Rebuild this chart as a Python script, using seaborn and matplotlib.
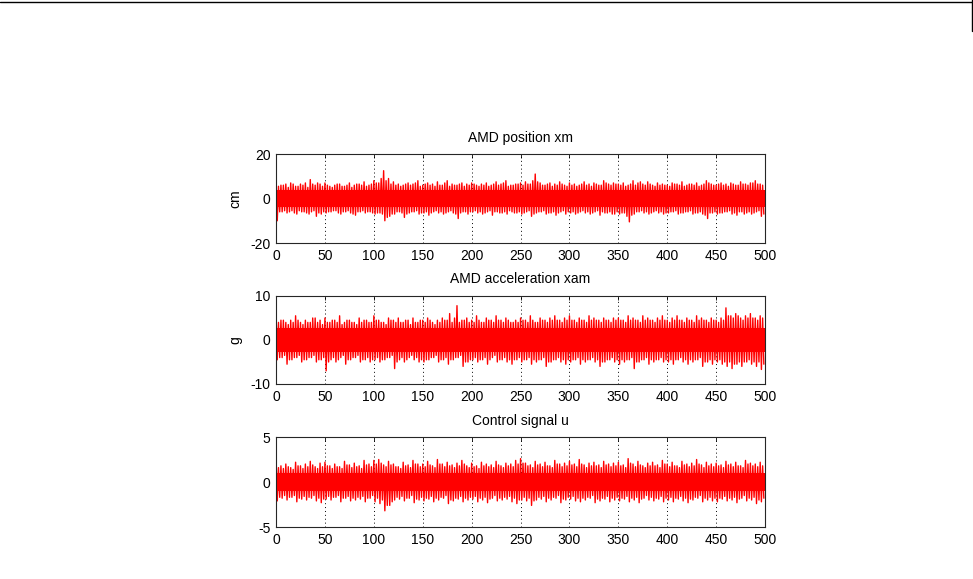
import numpy as np
import matplotlib
matplotlib.use("Agg")
import matplotlib.pyplot as plt
import seaborn as sns
from matplotlib.lines import Line2D

# envelope peaks, one value per 5 s bin (0..495)
# *_hi / *_lo : peaks at the start of each bin, *_hi2 / *_lo2 : peaks half a bin later
t_bins = list(range(0, 500, 5))

xm_hi = [7.5, 6, 6.5, 7, 5.5, 6.5, 7, 8.5, 6, 6.5,
         7, 5.5, 6, 6.5, 5.5, 7, 6, 6.5, 7.5, 6,
         8, 7, 12.5, 9, 7.5, 6.5, 6, 7, 6.5, 8,
         6, 7, 6.5, 7.5, 6, 8, 6.5, 6, 7, 6.5,
         7, 6, 6.5, 7, 6, 7.5, 6.5, 8, 6, 6.5,
         7, 7.5, 6.5, 11, 7, 6, 7, 6.5, 7.5, 6,
         7, 6.5, 6, 7.5, 6.5, 7, 6, 8, 6.5, 7,
         6.5, 7, 6, 8, 7, 6.5, 7.5, 6, 7, 6.5,
         6, 7, 6.5, 7.5, 6, 6.5, 7, 6, 8, 6.5,
         6, 7, 6.5, 7, 6, 7.5, 6.5, 7, 8, 6.5]
xm_hi2 = [5.5, 6, 5, 6.5, 5.5, 6, 5, 6.5, 7, 5.5,
          6, 5, 6.5, 5.5, 6, 5, 6.5, 6, 5.5, 6.5,
          7, 9, 8, 6.5, 6, 5.5, 6.5, 6, 7, 5.5,
          6.5, 6, 5.5, 6, 7, 5.5, 6, 6.5, 5.5, 6,
          6.5, 5.5, 6, 5.5, 6.5, 6, 7, 5.5, 6, 6.5,
          6, 6.5, 8, 7.5, 6, 6.5, 5.5, 6, 6.5, 5.5,
          6, 5.5, 6.5, 6, 5.5, 6.5, 6, 7, 6, 6.5,
          6, 5.5, 6.5, 6, 7.5, 6, 6.5, 5.5, 6, 6,
          5.5, 6.5, 6, 5.5, 6.5, 6, 5.5, 6.5, 7, 6,
          6.5, 6, 5.5, 6.5, 6, 6.5, 6, 7, 6.5, 6]
xm_lo = [-10, -6, -6.5, -5.5, -7, -6, -6.5, -6, -8, -7,
         -6.5, -6, -5.5, -7, -6, -6.5, -7.5, -6, -6.5, -6,
         -7, -6.5, -10, -8, -7, -6, -8.5, -6.5, -6, -7,
         -6.5, -7.5, -6, -6.5, -7, -6, -6.5, -9, -6, -7,
         -6, -6.5, -7, -6, -7.5, -6, -6.5, -7, -6, -6.5,
         -7, -6, -8, -6.5, -6, -7, -6.5, -7.5, -6, -7,
         -6.5, -7, -6, -6.5, -7, -6, -7.5, -6.5, -6, -7,
         -7, -6.5, -10.5, -7, -6, -6.5, -7, -6, -6.5, -7,
         -6.5, -6, -7, -6.5, -6, -7, -6.5, -7, -9, -6.5,
         -7, -6.5, -6, -7, -7.5, -6, -6.5, -7, -6, -8]
xm_lo2 = [-6, -5.5, -6, -6.5, -5.5, -6, -7, -5.5, -6.5, -6,
          -6, -5.5, -6.5, -6, -5.5, -7, -6, -5.5, -6, -6.5,
          -6.5, -7, -8.5, -7, -6, -6.5, -7, -6, -5.5, -6.5,
          -6, -6.5, -5.5, -6, -6.5, -5.5, -7, -6.5, -6, -6,
          -5.5, -6, -6.5, -5.5, -6, -6.5, -6, -5.5, -6.5, -6,
          -6.5, -5.5, -7, -6, -5.5, -6.5, -6, -6.5, -5.5, -6,
          -6, -6.5, -5.5, -6, -6.5, -5.5, -6, -6.5, -7, -6,
          -6.5, -8, -7.5, -6, -5.5, -6, -6.5, -5.5, -6, -6.5,
          -6, -5.5, -6.5, -6, -5.5, -6.5, -6, -7.5, -6.5, -6,
          -6.5, -6, -5.5, -6.5, -6, -7, -6, -6.5, -5.5, -7]

xam_hi = [6, 4.5, 4, 4.5, 5.5, 4, 4.5, 4, 5, 4.5,
          5, 4, 4.5, 5.5, 4, 4.5, 4, 5, 4.5, 4,
          5.5, 4.5, 4, 5, 4.5, 5, 4, 4.5, 5, 4,
          4.5, 5, 4, 4.5, 5, 4.5, 4, 7.8, 4.5, 5,
          4.5, 5.5, 4, 5, 4.5, 5.5, 4.5, 5, 4, 4.5,
          5, 4.5, 5.5, 4, 5, 4.5, 5, 5.5, 4.5, 5,
          5.5, 4.5, 5, 4.5, 5.5, 5, 4.5, 5, 4.5, 5,
          5, 4.5, 5.5, 5, 4.5, 5.5, 5, 4.5, 5, 5.5,
          4.5, 5, 5.5, 4.5, 5, 4.5, 5.5, 5, 4.5, 5,
          4.5, 5, 7.3, 5.5, 6, 5, 5.5, 6, 5, 5.5]
xam_hi2 = [4, 4.5, 3.5, 4, 4.5, 3.5, 4, 5, 4, 3.5,
           4, 4.5, 4, 3.5, 4.5, 4, 3.5, 4, 4.5, 4,
           4.5, 4, 3.5, 4.5, 4, 4, 4.5, 3.5, 4, 4.5,
           4, 4.5, 3.5, 4, 4.5, 6, 5, 4, 4.5, 4,
           4, 4.5, 4, 4.5, 4, 4.5, 4, 4.5, 4, 4,
           4.5, 4, 4.5, 4, 4.5, 4, 4.5, 4.5, 4, 4.5,
           4.5, 4, 4.5, 4, 4.5, 4.5, 4, 4.5, 4, 4.5,
           4.5, 4, 4.5, 4.5, 4, 4.5, 4.5, 4, 4.5, 4.5,
           4, 4.5, 4.5, 4, 4.5, 4, 4.5, 4.5, 4, 4.5,
           4, 4.5, 5.5, 5, 5.5, 4.5, 5, 5, 4.5, 5]
xam_lo = [-4.5, -4, -5.5, -4.5, -4, -5, -4.5, -4, -5, -4.5,
          -7, -4.5, -5, -4, -5.5, -4.5, -4, -5, -4.5, -5,
          -4.5, -5, -4.5, -4, -6.5, -4.5, -5, -4, -4.5, -5,
          -5, -4.5, -4, -5, -4.5, -5.5, -4.5, -4, -6, -5,
          -4.5, -5, -4.5, -5.5, -4, -5, -4.5, -5, -5.5, -4.5,
          -5, -4.5, -5.5, -5, -4.5, -6, -5, -4.5, -5, -5.5,
          -5, -4.5, -5.5, -5, -4.5, -5, -6, -5, -4.5, -5,
          -5.5, -5, -4.5, -6.5, -5, -4.5, -5.5, -5, -4.5, -5,
          -5, -5.5, -4.5, -5, -5.5, -5, -4.5, -6, -5, -5.5,
          -5, -5.5, -6, -6.5, -5.5, -6, -5, -5.5, -6, -6.7]
xam_lo2 = [-4, -3.5, -4.5, -4, -3.5, -4.5, -4, -3.5, -4.5, -4,
           -5, -4, -4.5, -3.5, -4.5, -4, -3.5, -4.5, -4, -4.5,
           -4, -4.5, -4, -3.5, -5, -4, -4.5, -3.5, -4, -4.5,
           -4.5, -4, -3.5, -4.5, -4, -4.5, -4, -3.5, -5, -4.5,
           -4, -4.5, -4, -4.5, -3.5, -4.5, -4, -4.5, -4.5, -4,
           -4.5, -4, -4.5, -4.5, -4, -5, -4.5, -4, -4.5, -4.5,
           -4.5, -4, -4.5, -4.5, -4, -4.5, -5, -4.5, -4, -4.5,
           -4.5, -4.5, -4, -5, -4.5, -4, -4.5, -4.5, -4, -4.5,
           -4.5, -4.5, -4, -4.5, -4.5, -4.5, -4, -5, -4.5, -4.5,
           -4.5, -5, -5, -5.5, -5, -5, -4.5, -5, -5, -5.5]

u_hi = [2.9, 1.8, 2, 1.6, 2.2, 1.8, 2, 2.3, 1.7, 2.1,
        2.2, 1.8, 2, 1.7, 2.3, 1.9, 2.1, 1.8, 2.4, 2,
        2.4, 2.5, 1.9, 2.3, 2, 1.7, 2.2, 1.9, 2.4, 2,
        2, 2.3, 1.8, 2.5, 2, 2.2, 1.9, 2.1, 2.4, 1.8,
        2.1, 1.8, 2.2, 2, 1.9, 2.3, 1.8, 2.1, 2, 2.4,
        2.6, 2.1, 1.9, 2.3, 2, 2.2, 1.8, 2.4, 2, 2.1,
        2.3, 2, 2.5, 1.9, 2.1, 2.2, 1.9, 2.3, 2, 2.1,
        2.2, 1.9, 2.6, 2, 2.3, 1.8, 2.1, 2.2, 1.9, 2.4,
        2, 2.2, 1.8, 2.3, 2, 2.1, 2.5, 1.9, 2.2, 2,
        2.1, 1.9, 2.3, 2, 2.2, 1.8, 2.4, 2.1, 2, 2.2]
u_hi2 = [1.6, 1.5, 1.7, 1.4, 1.8, 1.5, 1.7, 1.9, 1.5, 1.7,
         1.8, 1.5, 1.7, 1.5, 1.9, 1.6, 1.7, 1.5, 1.9, 1.7,
         2, 2.1, 1.7, 1.9, 1.7, 1.5, 1.8, 1.6, 2, 1.7,
         1.7, 1.9, 1.6, 2, 1.7, 1.8, 1.6, 1.8, 2, 1.6,
         1.7, 1.5, 1.8, 1.7, 1.6, 1.9, 1.6, 1.8, 1.7, 2,
         2.1, 1.8, 1.6, 1.9, 1.7, 1.8, 1.6, 2, 1.7, 1.8,
         1.9, 1.7, 2, 1.6, 1.8, 1.8, 1.6, 1.9, 1.7, 1.8,
         1.8, 1.6, 2.1, 1.7, 1.9, 1.6, 1.8, 1.8, 1.6, 2,
         1.7, 1.8, 1.6, 1.9, 1.7, 1.8, 2, 1.6, 1.8, 1.7,
         1.8, 1.6, 1.9, 1.7, 1.8, 1.6, 2, 1.8, 1.7, 1.8]
u_lo = [-2.1, -1.8, -2, -1.7, -2.2, -1.9, -2, -1.8, -2.1, -2.3,
        -1.9, -2, -1.7, -2.2, -1.8, -2.1, -2, -1.9, -2.2, -1.8,
        -2.2, -2.4, -3.2, -2.6, -2, -1.9, -2.1, -1.8, -2.3, -2,
        -2.1, -1.9, -2.2, -2, -1.8, -2.4, -2.1, -1.9, -2.2, -2,
        -1.9, -2.2, -2, -2.3, -1.8, -2.1, -2, -1.9, -2.2, -2.4,
        -2, -2.1, -2.6, -2, -1.9, -2.2, -2, -1.8, -2.3, -2,
        -1.9, -2.1, -2.2, -2, -1.8, -2.3, -2.1, -1.9, -2.2, -2,
        -2.1, -1.9, -2.2, -2, -2.3, -1.8, -2, -2.1, -1.9, -2.2,
        -2, -2.2, -1.9, -2.1, -2.3, -2, -1.8, -2.2, -2, -2.1,
        -2.2, -1.9, -2.1, -2, -2.3, -1.8, -2.1, -2, -2.4, -2.2]
u_lo2 = [-1.7, -1.5, -1.7, -1.5, -1.8, -1.6, -1.7, -1.5, -1.8, -1.9,
         -1.6, -1.7, -1.5, -1.8, -1.6, -1.8, -1.7, -1.6, -1.8, -1.5,
         -1.8, -2, -2.6, -2.2, -1.7, -1.6, -1.8, -1.5, -1.9, -1.7,
         -1.8, -1.6, -1.8, -1.7, -1.5, -2, -1.8, -1.6, -1.8, -1.7,
         -1.6, -1.8, -1.7, -1.9, -1.5, -1.8, -1.7, -1.6, -1.8, -2,
         -1.7, -1.8, -2.1, -1.7, -1.6, -1.8, -1.7, -1.5, -1.9, -1.7,
         -1.6, -1.8, -1.8, -1.7, -1.5, -1.9, -1.8, -1.6, -1.8, -1.7,
         -1.8, -1.6, -1.8, -1.7, -1.9, -1.5, -1.7, -1.8, -1.6, -1.8,
         -1.7, -1.8, -1.6, -1.8, -1.9, -1.7, -1.5, -1.8, -1.7, -1.8,
         -1.8, -1.6, -1.8, -1.7, -1.9, -1.5, -1.8, -1.7, -2, -1.8]

# dense solid part of each trace (half width)
core = [4.0, 2.8, 1.0]

titles = ["AMD position xm", "AMD acceleration xam", "Control signal u"]
ylabels = ["cm", "g", ""]
ylims = [(-20, 20), (-10, 10), (-5, 5)]
yticks = [[-20, 0, 20], [-10, 0, 10], [-5, 0, 5]]
xticks = list(range(0, 501, 50))

sns.set_style("white")
plt.rcParams['font.family'] = ['Liberation Sans', 'DejaVu Sans']
plt.rcParams['font.size'] = 10
plt.rcParams['axes.unicode_minus'] = False
plt.rcParams['text.color'] = 'black'
plt.rcParams['axes.labelcolor'] = 'black'

fig = plt.figure(figsize=(9.73, 5.79), dpi=100)
boxes = [[0.2837, 0.5803, 0.5026, 0.1537],
         [0.2837, 0.3368, 0.5026, 0.1520],
         [0.2837, 0.0898, 0.5026, 0.1554]]

series = [(xm_hi, xm_lo, xm_hi2, xm_lo2),
          (xam_hi, xam_lo, xam_hi2, xam_lo2),
          (u_hi, u_lo, u_hi2, u_lo2)]

for i, (hi, lo, hi2, lo2) in enumerate(series):
    ax = fig.add_axes(boxes[i])
    # zigzag through the peaks, four per bin
    xs, ys = [], []
    for t, a, b, c, d in zip(t_bins, hi, lo, hi2, lo2):
        xs += [t, t + 1.25, t + 2.5, t + 3.75]
        ys += [a, b, c, d]
    ax.fill_between([0, 500], -core[i], core[i], color="#ff0000", lw=0)
    sns.lineplot(x=xs, y=ys, sort=False, estimator=None, color="#ff0000",
                 lw=1.0, ax=ax)
    ax.set_xlim(0, 500)
    ax.set_ylim(*ylims[i])
    ax.set_xticks(xticks)
    ax.set_yticks(yticks[i])
    ax.xaxis.grid(True, linestyle=(0, (1, 3)), color="black", lw=0.7)
    ax.yaxis.grid(False)
    ax.set_axisbelow(True)
    ax.tick_params(direction="in", length=3, width=0.6, top=True, right=True,
                   labelsize=10, pad=4, colors="black")
    for s in ax.spines.values():
        s.set_color("#262626")
        s.set_linewidth(0.8)
    ax.set_title(titles[i], fontsize=10, pad=9, color="black")
    ax.set_ylabel(ylabels[i], fontsize=10, labelpad=6)
    ax.set_xlabel("")

# window frame edge seen in the screenshot
fig.add_artist(Line2D([0, 971.5 / 973], [1 - 1.5 / 579, 1 - 1.5 / 579],
                      color="black", lw=1, transform=fig.transFigure))
fig.add_artist(Line2D([971.5 / 973, 971.5 / 973], [1, 1 - 31 / 579],
                      color="black", lw=1, transform=fig.transFigure))

fig.savefig("out.png", dpi=100)
